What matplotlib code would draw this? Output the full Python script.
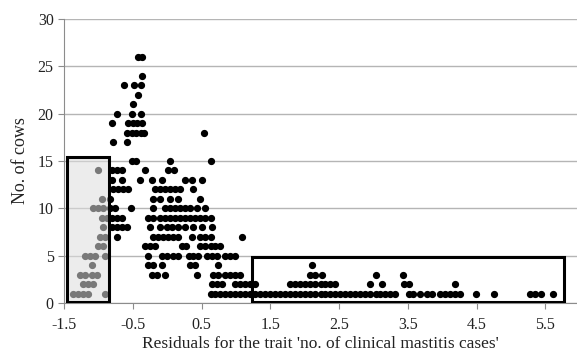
import matplotlib
matplotlib.use("Agg")
import matplotlib.pyplot as plt
from matplotlib.patches import Rectangle

plt.rcParams["font.family"] = ["Liberation Serif", "DejaVu Serif"]

# residual values (x) observed for each count of cows (y)
residuals_by_count = {
    26: [-0.42, -0.37],
    24: [-0.37],
    23: [-0.63, -0.48, -0.38],
    22: [-0.42],
    21: [-0.49],
    20: [-0.73, -0.51, -0.38],
    19: [-0.80, -0.57, -0.49, -0.44, -0.36],
    18: [-0.58, -0.51, -0.45, -0.38, -0.33, 0.54],
    17: [-0.79, -0.58],
    15: [-0.51, -0.46, 0.04, 0.64],
    14: [-1.00, -0.80, -0.73, -0.65, -0.32, 0.01, 0.10],
    13: [-0.80, -0.65, -0.39, -0.22, -0.07, 0.26, 0.36, 0.51],
    12: [-0.79, -0.71, -0.64, -0.57, -0.17, -0.10, -0.03, 0.04, 0.12,
         0.19, 0.38],
    11: [-0.95, -0.83, -0.20, -0.10, 0.04, 0.15, 0.48],
    10: [-1.08, -1.00, -0.93, -0.83, -0.76, -0.52, -0.20, -0.03, 0.04,
         0.12, 0.19, 0.26, 0.33, 0.44, 0.55],
    9: [-0.95, -0.87, -0.80, -0.73, -0.65, -0.28, -0.20, -0.10, -0.03,
        0.04, 0.12, 0.19, 0.26, 0.33, 0.41, 0.48, 0.55, 0.63],
    8: [-0.93, -0.80, -0.73, -0.65, -0.58, -0.25, -0.10, 0.00, 0.07,
        0.16, 0.26, 0.38, 0.51, 0.65],
    7: [-0.97, -0.90, -0.73, -0.20, -0.13, -0.06, 0.01, 0.09, 0.16,
        0.36, 0.48, 0.55, 0.63, 1.09],
    6: [-1.00, -0.93, -0.32, -0.25, -0.17, 0.22, 0.28, 0.48, 0.55, 0.63,
        0.70, 0.77],
    5: [-1.19, -1.12, -1.05, -0.90, -0.28, -0.07, 0.00, 0.09, 0.16, 0.31,
        0.38, 0.45, 0.58, 0.65, 0.73, 0.84, 0.92, 0.99],
    4: [-1.09, -0.28, -0.20, -0.07, 0.33, 0.41, 0.74, 2.11],
    3: [-1.27, -1.19, -1.09, -1.02, -0.22, -0.15, -0.03, 0.44, 0.67, 0.74,
        0.84, 0.92, 0.99, 1.06, 2.08, 2.15, 2.25, 3.03, 3.43],
    2: [-1.22, -1.15, -1.08, 0.65, 0.73, 0.80, 0.99, 1.06, 1.13, 1.21,
        1.28, 1.79, 1.86, 1.93, 2.01, 2.08, 2.15, 2.23, 2.30, 2.37, 2.44,
        2.95, 3.13, 3.45, 3.52, 4.19],
    1: [-1.37, -1.29, -1.22, -1.15, -0.90, 0.63, 0.70, 0.77, 0.84, 0.92,
        0.99, 1.06, 1.13, 1.21, 1.28, 1.35, 1.42, 1.50, 1.57, 1.64, 1.72,
        1.79, 1.86, 1.93, 2.01, 2.08, 2.15, 2.23, 2.30, 2.37, 2.44, 2.52,
        2.59, 2.66, 2.73, 2.81, 2.88, 2.95, 3.03, 3.10, 3.17, 3.24, 3.32,
        3.51, 3.58, 3.68, 3.78, 3.85, 3.97, 4.04, 4.12, 4.19, 4.26, 4.49,
        4.76, 5.28, 5.35, 5.43, 5.61],
}

x_ticks = [-1.5, -0.5, 0.5, 1.5, 2.5, 3.5, 4.5, 5.5]
y_ticks = [0, 5, 10, 15, 20, 25, 30]

# highlighted regions: (x0, x1, y0, y1)
low_box = (-1.46, -0.84, 0.1, 15.4)
high_box = (1.24, 5.77, 0.1, 4.86)

xs = []
ys = []
for count, values in residuals_by_count.items():
    for v in values:
        xs.append(v)
        ys.append(count)

fig = plt.figure(figsize=(5.77, 3.55), dpi=100)
ax = fig.add_axes([0.111, 0.1465, 0.889, 0.80])

ax.set_xlim(-1.5, 5.96)
ax.set_ylim(0, 30)
ax.set_xticks(x_ticks)
ax.set_xticklabels([f"{t:.1f}" for t in x_ticks])
ax.set_yticks(y_ticks)

ax.grid(axis="y", color="#b5b5b5", linewidth=1.0, zorder=0)
ax.set_axisbelow(True)
for side in ("top", "right"):
    ax.spines[side].set_visible(False)
ax.spines["left"].set_color("#8c8c8c")
ax.spines["bottom"].set_color("#8c8c8c")
ax.tick_params(axis="both", colors="#8c8c8c", labelcolor="#222222",
               labelsize=11.5, length=4, direction="out")
ax.tick_params(axis="x", pad=6)

ax.plot(xs, ys, "o", color="black", markersize=4.2, linestyle="none",
        zorder=3)

x0, x1, y0, y1 = low_box
ax.add_patch(Rectangle((x0, y0), x1 - x0, y1 - y0, facecolor="#dedede",
                       alpha=0.55, edgecolor="none", zorder=4))
ax.add_patch(Rectangle((x0, y0), x1 - x0, y1 - y0, facecolor="none",
                       edgecolor="black", linewidth=2.2, zorder=5))
x0, x1, y0, y1 = high_box
ax.add_patch(Rectangle((x0, y0), x1 - x0, y1 - y0, facecolor="none",
                       edgecolor="black", linewidth=2.2, zorder=5))

ax.set_xlabel("Residuals for the trait 'no. of clinical mastitis cases'",
              fontsize=12.5, color="#222222", labelpad=2)
ax.set_ylabel("No. of cows", fontsize=13, color="#222222", labelpad=6)

fig.savefig("out.png", dpi=100)
